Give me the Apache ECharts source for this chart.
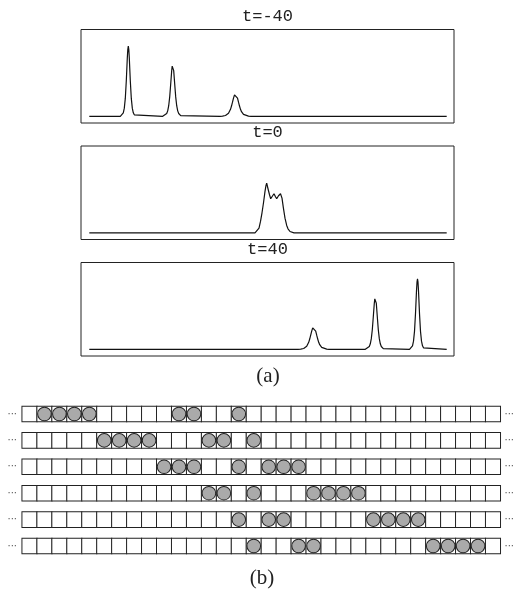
<!DOCTYPE html>
<html>
<head>
<meta charset="utf-8">
<script src="https://cdn.jsdelivr.net/npm/echarts@6/dist/echarts.min.js"></script>
<style>
  html, body { margin: 0; padding: 0; background: #fff; }
  #chart { width: 517px; height: 606px; }
</style>
</head>
<body>
<div id="chart"></div>
<script>
// soliton profiles, x = position along the frame, y = amplitude
const curveT1 = [
  [8.3, 0], [39.3, 0], [41.3, 0.022], [42.3, 0.053], [43.3, 0.122], [44.3, 0.268], [45.3, 0.532],
  [46.3, 0.874], [46.8, 1.0], [47.3, 1.05], [47.8, 1.0], [48.3, 0.874], [49.3, 0.532], [50.3, 0.268],
  [51.3, 0.122], [52.3, 0.053], [53.3, 0.022], [55.3, 0],
  [81.7, 0], [83.7, 0.010], [85.7, 0.042], [86.7, 0.082], [87.7, 0.159], [88.7, 0.291], [89.7, 0.484],
  [90.7, 0.684], [91.2, 0.751], [91.7, 0.775], [92.2, 0.751], [92.7, 0.684], [93.7, 0.484], [94.7, 0.291],
  [95.7, 0.159], [96.7, 0.082], [97.7, 0.042], [99.7, 0.010], [101.7, 0],
  [139, 0], [141.5, 0.003], [144.5, 0.012], [146.5, 0.029], [147.5, 0.045], [148.5, 0.070], [149.5, 0.105],
  [150.5, 0.154], [151.5, 0.212], [152.5, 0.273], [153.5, 0.321], [154.5, 0.34], [155.5, 0.321],
  [156.5, 0.273], [157.5, 0.212], [158.5, 0.154], [159.5, 0.105], [160.5, 0.070], [161.5, 0.045],
  [162.5, 0.029], [164.5, 0.012], [167.5, 0.003], [170, 0],
  [365.7, 0]
]
const curveT2 = [
  [8.3, 0], [174, 0], [176, 0.02], [178, 0.07], [179.5, 0.17], [181, 0.30], [182.5, 0.45], [184, 0.62],
  [185, 0.71], [185.7, 0.744], [187, 0.66], [188.5, 0.57], [189.7, 0.51], [191, 0.54], [193, 0.585],
  [194.5, 0.54], [195.7, 0.51], [197.5, 0.555], [199.5, 0.585], [201, 0.52], [202.3, 0.38], [204, 0.22],
  [205.7, 0.11], [207, 0.06], [209, 0.02], [211, 0.005], [213, 0],
  [365.7, 0]
]
const curveT3 = [
  [8.3, 0], [217, 0], [219.7, 0.003], [222.7, 0.012], [224.7, 0.029], [225.7, 0.045], [226.7, 0.070],
  [227.7, 0.105], [228.7, 0.154], [229.7, 0.212], [230.7, 0.273], [231.7, 0.321], [232.7, 0.345],
  [233.7, 0.321], [234.7, 0.273], [235.7, 0.212], [236.7, 0.154], [237.7, 0.105], [238.7, 0.070],
  [239.7, 0.045], [240.7, 0.029], [242.7, 0.012], [245.7, 0.003], [248, 0],
  [284.3, 0], [286.3, 0.010], [288.3, 0.042], [289.3, 0.083], [290.3, 0.160], [291.3, 0.293], [292.3, 0.487],
  [293.3, 0.689], [293.8, 0.756], [294.3, 0.78], [294.8, 0.756], [295.3, 0.689], [296.3, 0.487],
  [297.3, 0.293], [298.3, 0.160], [299.3, 0.083], [300.3, 0.042], [302.3, 0.010], [304.3, 0],
  [328.5, 0], [330.5, 0.022], [331.5, 0.053], [332.5, 0.122], [333.5, 0.269], [334.5, 0.535],
  [335.5, 0.878], [336, 1.005], [336.5, 1.055], [337, 1.005], [337.5, 0.878], [338.5, 0.535],
  [339.5, 0.269], [340.5, 0.122], [341.5, 0.053], [342.5, 0.022], [344.5, 0],
  [365.7, 0]
]
const panelTitles = ['t=-40', 't=0', 't=40']

// box-ball system: 32 boxes, 6 time steps, filled box indices per step
const boxIndex = Array.from({ length: 32 }, (_, i) => String(i))
const stepLabels = ['0', '1', '2', '3', '4', '5']
const ballRows = [
  [1, 2, 3, 4, 10, 11, 14],
  [5, 6, 7, 8, 12, 13, 15],
  [9, 10, 11, 14, 16, 17, 18],
  [12, 13, 15, 19, 20, 21, 22],
  [14, 16, 17, 23, 24, 25, 26],
  [15, 18, 19, 27, 28, 29, 30]
]

const panelTops = [29.5, 146, 262.5]
const panelTitleTops = [8, 124, 241]

const boxes = []
stepLabels.forEach((s, r) => boxIndex.forEach((b, c) => boxes.push([c, r])))
const balls = []
ballRows.forEach((row, r) => row.forEach(c => balls.push([c, r])))

const chart = echarts.init(document.getElementById('chart'), null, { renderer: 'canvas' })

const grids = panelTops.map(top => ({
  left: 81, top: top, width: 373, height: 93.5,
  show: true, borderColor: '#222', borderWidth: 1, backgroundColor: 'transparent'
}))
grids.push({ left: 22, top: 400.8, width: 482.7, height: 158.4 })

const xAxes = panelTops.map((t, i) => ({ type: 'value', gridIndex: i, min: 0, max: 373, show: false }))
xAxes.push({ type: 'category', gridIndex: 3, data: boxIndex, show: false })

const yAxes = panelTops.map((t, i) => ({ type: 'value', gridIndex: i, min: -0.1, max: 1.3, show: false }))
const dotAxis = {
  type: 'category', gridIndex: 3, data: stepLabels, inverse: true,
  axisLine: { show: false }, axisTick: { show: false }, splitLine: { show: false },
  axisLabel: { formatter: () => '···', color: '#555', fontSize: 10, fontFamily: 'DejaVu Sans' }
}
yAxes.push(Object.assign({}, dotAxis, { position: 'left', axisLabel: Object.assign({}, dotAxis.axisLabel, { margin: 5 }) }))
yAxes.push(Object.assign({}, dotAxis, { position: 'right', axisLabel: Object.assign({}, dotAxis.axisLabel, { margin: 4 }) }))

const titles = panelTitles.map((txt, i) => ({
  text: txt, left: 267.5, top: panelTitleTops[i], textAlign: 'center', padding: 0,
  textStyle: { fontFamily: 'Liberation Mono', fontSize: 17, fontWeight: 'normal', color: '#222' }
}))
titles.push({
  text: '(a)', left: 268, top: 366, textAlign: 'center', padding: 0,
  textStyle: { fontFamily: 'Liberation Serif', fontSize: 21, fontWeight: 'normal', color: '#222' }
})
titles.push({
  text: '(b)', left: 262, top: 568, textAlign: 'center', padding: 0,
  textStyle: { fontFamily: 'Liberation Serif', fontSize: 21, fontWeight: 'normal', color: '#222' }
})

const curves = [curveT1, curveT2, curveT3].map((d, i) => ({
  type: 'line', xAxisIndex: i, yAxisIndex: i, data: d,
  showSymbol: false, animation: false,
  lineStyle: { color: '#111', width: 1.2 }
}))

chart.setOption({
  backgroundColor: '#fff',
  animation: false,
  title: titles,
  grid: grids,
  xAxis: xAxes,
  yAxis: yAxes,
  series: curves.concat([
    {
      type: 'scatter', xAxisIndex: 3, yAxisIndex: 3, data: boxes,
      symbol: 'rect', symbolSize: [15.08, 15.6], silent: true,
      itemStyle: { color: '#fff', borderColor: '#222', borderWidth: 1, opacity: 1 }
    },
    {
      type: 'scatter', xAxisIndex: 3, yAxisIndex: 3, data: balls,
      symbol: 'circle', symbolSize: 13.6, silent: true,
      itemStyle: { color: '#aaa', borderColor: '#222', borderWidth: 1, opacity: 1 }
    }
  ])
})
</script>
</body>
</html>
